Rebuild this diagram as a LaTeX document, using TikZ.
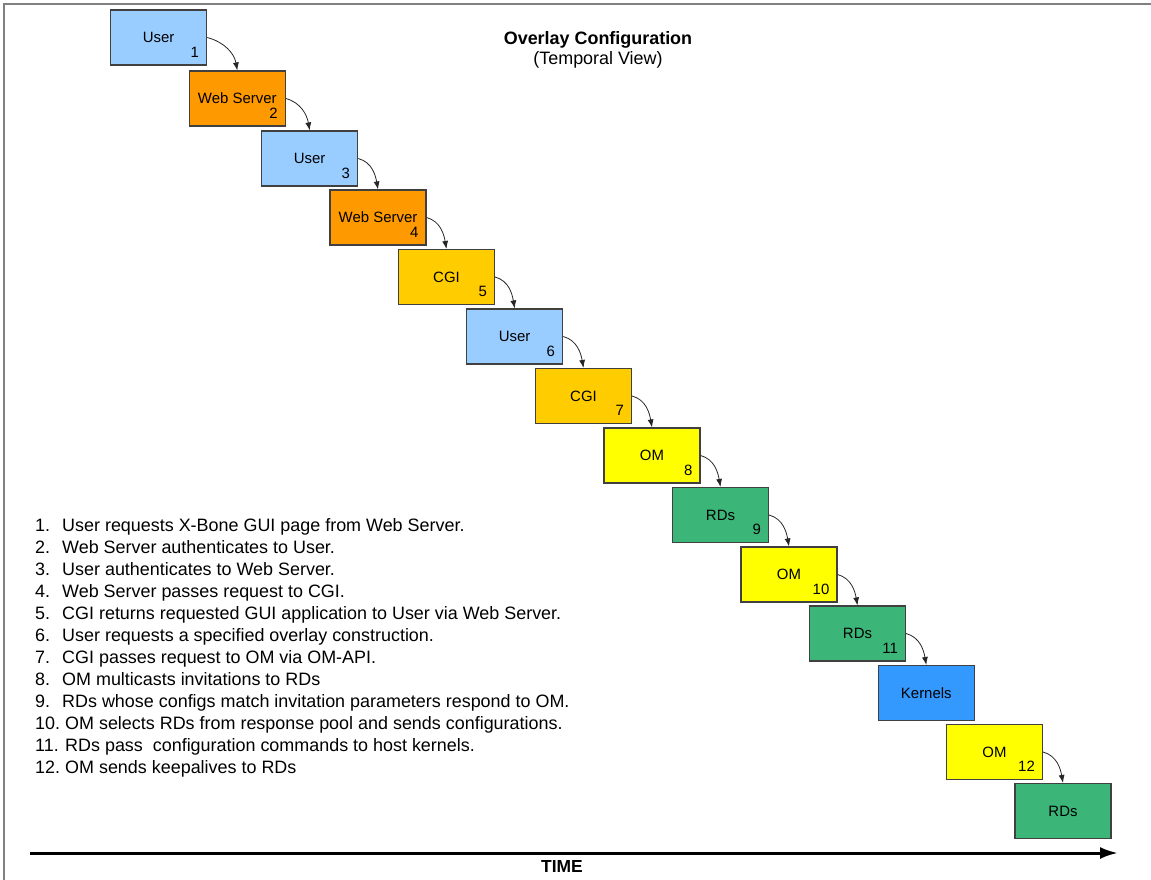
\documentclass[tikz,border=0pt]{standalone}
\usepackage{fontspec}
\setmainfont{Liberation Sans}
\usepackage{tikz}
\usetikzlibrary{arrows.meta}
\definecolor{ovedge}{RGB}{64,64,64}
\definecolor{ovframe}{RGB}{128,128,128}
\definecolor{ovuser}{RGB}{153,204,255}
\definecolor{ovweb}{RGB}{255,153,0}
\definecolor{ovcgi}{RGB}{255,204,0}
\definecolor{ovom}{RGB}{255,255,0}
\definecolor{ovrd}{RGB}{60,181,120}
\definecolor{ovkern}{RGB}{51,153,255}
\newcommand{\stepno}[2]{\makebox[#1][l]{#2}}
\tikzset{
  ovbox/.style={
    draw=ovedge, line width=1.1bp, inner sep=0pt,
    minimum width=96bp, minimum height=55bp,
    font=\fontsize{15}{17}\selectfont
  },
  usr/.style={ovbox, fill=ovuser},
  web/.style={ovbox, fill=ovweb},
  cgi/.style={ovbox, fill=ovcgi},
  om/.style={ovbox, fill=ovom},
  rds/.style={ovbox, fill=ovrd},
  krn/.style={ovbox, fill=ovkern},
  num/.style={anchor=south east, inner sep=0pt, xshift=-8bp, yshift=8bp,
    font=\fontsize{15}{17}\selectfont},
  arr/.style={-{Latex[length=8bp,width=6bp]}, draw=black!85, line width=0.8bp},
  timearr/.style={-{Latex[length=18bp,width=12bp]}, draw=black, line width=3bp},
  ttl/.style={font=\fontsize{18}{20}\selectfont, align=center}
}

\begin{document}
\begin{tikzpicture}[x=1bp, y=1bp]
  \useasboundingbox (0,0) rectangle (1151,-880);
  \draw[ovframe, line width=2bp] (4,-880) -- (4,-4) -- (1151,-4);

  \node[ttl] (title) at (598,-50) {\textbf{Overlay Configuration}\\(Temporal View)};

  % time sequence of boxes
  \node[usr, label={[num]south east:1}] (b1) at (158.7,-37.5) {User};
  \node[web, label={[num]south east:2}] (b2) at (237.3,-98.5) {Web Server};
  \node[usr, label={[num]south east:3}] (b3) at (309.7,-158.5) {User};
  \node[web, label={[num]south east:4}] (b4) at (378,-217.5) {Web Server};
  \node[cgi, label={[num]south east:5}] (b5) at (446.5,-277) {CGI};
  \node[usr, label={[num]south east:6}] (b6) at (514.7,-336.5) {User};
  \node[cgi, label={[num]south east:7}] (b7) at (583.5,-396) {CGI};
  \node[om, label={[num]south east:8}] (b8) at (652,-455.5) {OM};
  \node[rds, label={[num]south east:9}] (b9) at (720.5,-515) {RDs};
  \node[om, label={[num]south east:10}] (b10) at (789,-574.5) {OM};
  \node[rds, label={[num]south east:11}] (b11) at (857.5,-633.5) {RDs};
  \node[krn] (b12) at (926.3,-693) {Kernels};
  \node[om, label={[num]south east:12}] (b13) at (994.5,-752) {OM};
  \node[rds] (b14) at (1063,-811) {RDs};

  \draw[arr] (b1.east) to[out=-15, in=100] (b2.north);
  \draw[arr] (b2.east) to[out=-15, in=100] (b3.north);
  \draw[arr] (b3.east) to[out=-15, in=100] (b4.north);
  \draw[arr] (b4.east) to[out=-15, in=100] (b5.north);
  \draw[arr] (b5.east) to[out=-15, in=100] (b6.north);
  \draw[arr] (b6.east) to[out=-15, in=100] (b7.north);
  \draw[arr] (b7.east) to[out=-15, in=100] (b8.north);
  \draw[arr] (b8.east) to[out=-15, in=100] (b9.north);
  \draw[arr] (b9.east) to[out=-15, in=100] (b10.north);
  \draw[arr] (b10.east) to[out=-15, in=100] (b11.north);
  \draw[arr] (b11.east) to[out=-15, in=100] (b12.north);
  \draw[arr] (b13.east) to[out=-15, in=100] (b14.north);

  % legend of steps
  \node[anchor=north west, inner sep=0pt, align=left,
        font=\fontsize{18}{22.1}\selectfont] (steps) at (35,-518) {%
    \stepno{27bp}{1.}User requests X-Bone GUI page from Web Server.\\
    \stepno{27bp}{2.}Web Server authenticates to User.\\
    \stepno{27bp}{3.}User authenticates to Web Server.\\
    \stepno{27bp}{4.}Web Server passes request to CGI.\\
    \stepno{27bp}{5.}CGI returns requested GUI application to User via Web Server.\\
    \stepno{27bp}{6.}User requests a specified overlay construction.\\
    \stepno{27bp}{7.}CGI passes request to OM via OM-API.\\
    \stepno{27bp}{8.}OM multicasts invitations to RDs\\
    \stepno{27bp}{9.}RDs whose configs match invitation parameters respond to OM.\\
    \stepno{30bp}{10.}OM selects RDs from response pool and sends configurations.\\
    \stepno{30bp}{11.}RDs pass\ \ configuration commands to host kernels.\\
    \stepno{30bp}{12.}OM sends keepalives to RDs};

  % time axis
  \coordinate (t0) at (30,-853);
  \coordinate (t1) at (1118,-853);
  \draw[timearr] (t0) -- (t1);
  \node[font=\fontsize{17.5}{20}\selectfont\bfseries] (timelbl) at (562,-866) {TIME};
\end{tikzpicture}
\end{document}
